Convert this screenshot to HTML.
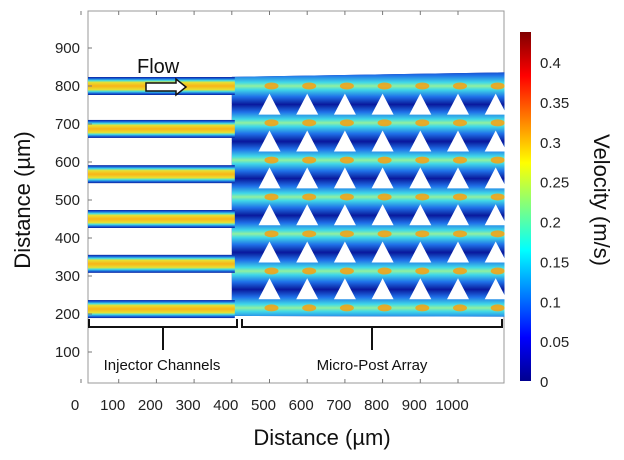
<!DOCTYPE html>
<html><head><meta charset="utf-8"><style>
body{margin:0;background:#fff;}
svg{display:block;font-family:"Liberation Sans",sans-serif;}
</style></head><body>
<svg id="c" width="624" height="460" viewBox="0 0 624 460">
<defs>
<linearGradient id="chan" x1="0" y1="0" x2="0" y2="1">
<stop offset="0" stop-color="#0a1f9c"/><stop offset="0.1" stop-color="#1a6ee0"/><stop offset="0.2" stop-color="#49e0e0"/><stop offset="0.3" stop-color="#e8e030"/><stop offset="0.5" stop-color="#f8b418"/><stop offset="0.7" stop-color="#e8e030"/><stop offset="0.8" stop-color="#49e0e0"/><stop offset="0.9" stop-color="#1a6ee0"/><stop offset="1" stop-color="#0a1f9c"/>
</linearGradient>
<linearGradient id="band" x1="0" y1="0" x2="0" y2="1">
<stop offset="0" stop-color="#0a1fa0"/><stop offset="0.2" stop-color="#1f70e8"/><stop offset="0.4" stop-color="#40d8e8"/><stop offset="0.5" stop-color="#90f0a0"/><stop offset="0.6" stop-color="#40d8e8"/><stop offset="0.8" stop-color="#1f70e8"/><stop offset="1" stop-color="#0a1fa0"/>
</linearGradient>
<linearGradient id="cbar" x1="0" y1="1" x2="0" y2="0">
<stop offset="0" stop-color="#00008f"/><stop offset="0.125" stop-color="#0000ff"/><stop offset="0.375" stop-color="#00ffff"/><stop offset="0.625" stop-color="#ffff00"/><stop offset="0.875" stop-color="#ff0000"/><stop offset="1" stop-color="#800000"/>
</linearGradient>
<clipPath id="arclip"><polygon id="arpoly" points="0,0"/></clipPath>
</defs>
<g id="plot"></g>
</svg>
<script>
const xTicks=[0,100,200,300,400,500,600,700,800,900,1000];
const yTicks=[100,200,300,400,500,600,700,800,900];
const channelCenters=[800,687,568,450,332,213];
const bandCenters=[800,703,605,508,411,313,216];
const postRows=[751,654,557,460,362,265];
const postCols=[500,600,700,800,900,1000,1100];
const cbTicks=[0,0.05,0.1,0.15,0.2,0.25,0.3,0.35,0.4];
const cbLabels=["0","0.05","0.1","0.15","0.2","0.25","0.3","0.35","0.4"];
const X=v=>81+v*0.377;
const Y=v=>86+(800-v)*0.38;
const CB=v=>381-v*797.5;
const NS="http://www.w3.org/2000/svg";
const g=document.getElementById('plot');
function mk(t,a,p){const e=document.createElementNS(NS,t);for(const k in a)e.setAttribute(k,a[k]);(p||g).appendChild(e);return e;}
const fr=mk('rect',{x:88,y:11,width:416,height:372,fill:'#fff',stroke:'#999','stroke-width':1});

const pts=`${X(400)},${Y(824)} ${X(1124)},${Y(836)} ${X(1124)},${Y(193)} ${X(400)},${Y(195)}`;
document.getElementById('arpoly').setAttribute('points',pts);
const ar=mk('polygon',{points:pts,fill:'#0a1aa0'});

const ag=mk('g',{'clip-path':'url(#arclip)'});
bandCenters.forEach((b,i)=>{
 const r=mk('rect',{x:X(400),y:Y(b)-18,width:X(1124)-X(400),height:36,fill:'url(#band)'},ag);
 
 postCols.forEach(c=>{const e=mk('ellipse',{cx:X(c)+2,cy:Y(b),rx:7,ry:3.5,fill:'#f8a010',opacity:0.85},ag);
 });
});
channelCenters.forEach((c,i)=>{
 const r=mk('rect',{x:88,y:Y(c)-9,width:X(408)-88,height:18,fill:'url(#chan)'});
 
});
postRows.forEach(r=>postCols.forEach(c=>{
 const cx=X(c),cy=Y(r);
 const t=mk('polygon',{points:`${cx},${cy-11} ${cx+11},${cy+10} ${cx-11},${cy+10}`,fill:'#fff'});
 
}));
mk('rect',{x:504.5,y:0,width:12,height:400,fill:'#fff'});
xTicks.forEach(v=>{
 mk('line',{x1:X(v),x2:X(v),y1:11,y2:15,stroke:'#777'});mk('line',{x1:X(v),x2:X(v),y1:383,y2:379,stroke:'#777'});
 const t=mk('text',{x:X(v)-6,y:410,'font-size':15,'text-anchor':'middle',fill:'#222'});t.textContent=v;
 
});
yTicks.forEach(v=>{
 mk('line',{x1:88,x2:92,y1:Y(v),y2:Y(v),stroke:'#777'});
 const t=mk('text',{x:80,y:Y(v)+5,'font-size':15,'text-anchor':'end',fill:'#222'});t.textContent=v;
 
});
let t=mk('text',{x:137,y:73,'font-size':20,fill:'#111'});t.textContent='Flow';

const a=mk('polygon',{points:'146,83 176,83 176,79 186,87 176,95 176,91 146,91',fill:'#fff',stroke:'#111','stroke-width':1.5});

function bracket(x1,x2,name,label,lx){
 const p=mk('path',{d:`M${x1},319 V327 H${x2} V319 M${(x1+x2)/2},327 V350`,fill:'none',stroke:'#111','stroke-width':2});
 
 const tt=mk('text',{x:lx,y:370,'font-size':15,'text-anchor':'middle',fill:'#111'});tt.textContent=label;
 
}
bracket(89,237,'injector-bracket','Injector Channels',162);
bracket(242,502,'micro-post-bracket','Micro-Post Array',372);
t=mk('text',{x:322,y:445,'font-size':22,'text-anchor':'middle',fill:'#111'});t.textContent='Distance (µm)';

t=mk('text',{x:0,y:0,'font-size':22,'text-anchor':'middle',fill:'#111',transform:'translate(30,200) rotate(-90)'});t.textContent='Distance (µm)';

const cb=mk('rect',{x:520,y:32,width:11,height:349,fill:'url(#cbar)'});

cbTicks.forEach((v,i)=>{
 const tt=mk('text',{x:540,y:CB(v)+6,'font-size':15,fill:'#222'});tt.textContent=cbLabels[i];
 
});
t=mk('text',{x:0,y:0,'font-size':22,'text-anchor':'middle',fill:'#111',transform:'translate(594,200) rotate(90)'});t.textContent='Velocity (m/s)';

</script>
</body></html>
